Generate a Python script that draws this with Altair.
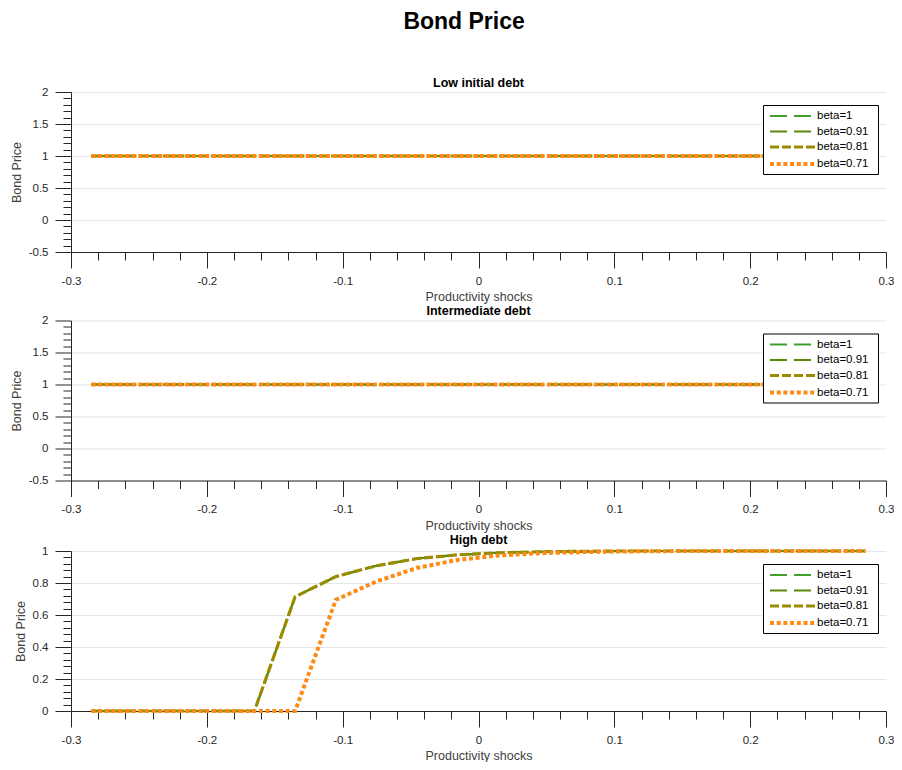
import altair as alt
import pandas as pd

# ---- data ----
x_vals = [-0.285, -0.255, -0.225, -0.195, -0.165, -0.135, -0.105, -0.075, -0.045, -0.015,
          0.015, 0.045, 0.075, 0.105, 0.135, 0.165, 0.195, 0.225, 0.255, 0.285]
series = ["beta=1", "beta=0.91", "beta=0.81", "beta=0.71"]

low_b1 = [1, 1, 1, 1, 1, 1, 1, 1, 1, 1, 1, 1, 1, 1, 1, 1, 1, 1, 1, 1]
low_b91 = [1, 1, 1, 1, 1, 1, 1, 1, 1, 1, 1, 1, 1, 1, 1, 1, 1, 1, 1, 1]
low_b81 = [1, 1, 1, 1, 1, 1, 1, 1, 1, 1, 1, 1, 1, 1, 1, 1, 1, 1, 1, 1]
low_b71 = [1, 1, 1, 1, 1, 1, 1, 1, 1, 1, 1, 1, 1, 1, 1, 1, 1, 1, 1, 1]

mid_b1 = [1, 1, 1, 1, 1, 1, 1, 1, 1, 1, 1, 1, 1, 1, 1, 1, 1, 1, 1, 1]
mid_b91 = [1, 1, 1, 1, 1, 1, 1, 1, 1, 1, 1, 1, 1, 1, 1, 1, 1, 1, 1, 1]
mid_b81 = [1, 1, 1, 1, 1, 1, 1, 1, 1, 1, 1, 1, 1, 1, 1, 1, 1, 1, 1, 1]
mid_b71 = [1, 1, 1, 1, 1, 1, 1, 1, 1, 1, 1, 1, 1, 1, 1, 1, 1, 1, 1, 1]

high_b1 = [0, 0, 0, 0, 0, 0.714, 0.84, 0.908, 0.953, 0.976, 0.989, 0.995, 0.998, 1, 1, 1, 1, 1, 1, 1]
high_b91 = [0, 0, 0, 0, 0, 0.714, 0.84, 0.908, 0.953, 0.976, 0.989, 0.995, 0.998, 1, 1, 1, 1, 1, 1, 1]
high_b81 = [0, 0, 0, 0, 0, 0.714, 0.84, 0.908, 0.953, 0.976, 0.989, 0.995, 0.998, 1, 1, 1, 1, 1, 1, 1]
high_b71 = [0, 0, 0, 0, 0, 0, 0.695, 0.81, 0.895, 0.945, 0.972, 0.986, 0.993, 0.997, 0.999, 1, 1, 1, 1, 1]

x_ticks = [-0.3, -0.28, -0.26, -0.24, -0.22, -0.2, -0.18, -0.16, -0.14, -0.12, -0.1, -0.08, -0.06,
           -0.04, -0.02, 0, 0.02, 0.04, 0.06, 0.08, 0.1, 0.12, 0.14, 0.16, 0.18, 0.2, 0.22, 0.24,
           0.26, 0.28, 0.3]
y_ticks_wide = [-0.5, -0.4, -0.3, -0.2, -0.1, 0, 0.1, 0.2, 0.3, 0.4, 0.5, 0.6, 0.7, 0.8, 0.9, 1,
                1.1, 1.2, 1.3, 1.4, 1.5, 1.6, 1.7, 1.8, 1.9, 2]
y_ticks_high = [0, 0.04, 0.08, 0.12, 0.16, 0.2, 0.24, 0.28, 0.32, 0.36, 0.4, 0.44, 0.48, 0.52,
                0.56, 0.6, 0.64, 0.68, 0.72, 0.76, 0.8, 0.84, 0.88, 0.92, 0.96, 1]

colors = ["#3f9f2a", "#5b8a0a", "#9c8b00", "#ff8a16"]
dashes = [[17, 7], [17, 7], [9, 3], [4, 2.7]]
widths = [2, 2.2, 3.2, 4]

FONT = "Liberation Sans"


def make_df(vals):
    rows = []
    for s, v in zip(series, vals):
        for xv, yv in zip(x_vals, v):
            rows.append({"x": xv, "v": yv, "s": s})
    return pd.DataFrame(rows)


def major_test(step):
    return f"abs(datum.value/{step} - round(datum.value/{step})) < 1e-6"


def panel(vals, title, ydom, yticks, ymajor):
    df = make_df(vals)
    xt = major_test(0.1)
    yt = major_test(ymajor)
    x_axis = alt.Axis(
        values=x_ticks,
        labelExpr=f"{xt} ? replace(format(datum.value, '.1~f'), '\u2212', '-') : ''",
        tickSize={"condition": {"test": xt, "value": 16}, "value": 8},
        grid=False,
        labelOverlap=False,
        labelFlush=False,
        labelPadding=7,
        title="Productivity shocks",
        titlePadding=4,
    )
    y_axis = alt.Axis(
        values=yticks,
        labelExpr=f"{yt} ? replace(format(datum.value, '~g'), '\u2212', '-') : ''",
        tickSize={"condition": {"test": yt, "value": 16}, "value": 8},
        grid=True,
        gridOpacity={"condition": {"test": yt, "value": 1}, "value": 0},
        labelOverlap=False,
        labelPadding=7,
        title="Bond Price",
        titlePadding=5,
    )
    leg = alt.Legend(
        title="\u00a0",
        titleOrient="right",
        titlePadding=8,
        titleFontSize=11.5,
        orient="none",
        legendX=692,
        legendY=13,
        fillColor="white",
        strokeColor="black",
        padding=2,
        rowPadding=0,
        symbolType="M-0.625,0H5",
        symbolSize=256,
        labelFontSize=11.5,
        labelColor="black",
        labelFont=FONT,
        labelOffset=32,
    )
    return alt.Chart(df).mark_line().encode(
        x=alt.X("x:Q", scale=alt.Scale(domain=[-0.3, 0.3], nice=False, zero=False), axis=x_axis),
        y=alt.Y("v:Q", scale=alt.Scale(domain=ydom, nice=False, zero=False), axis=y_axis),
        color=alt.Color("s:N", scale=alt.Scale(domain=series, range=colors), legend=leg),
        strokeDash=alt.StrokeDash("s:N", scale=alt.Scale(domain=series, range=dashes), legend=leg),
        strokeWidth=alt.StrokeWidth("s:N", scale=alt.Scale(type="ordinal", domain=series, range=widths),
                                    legend=leg),
    ).properties(
        width=815,
        height=160,
        title=alt.TitleParams(title, fontSize=12.5, fontWeight="bold", font=FONT, color="black",
                              anchor="middle", frame="group", offset=-3),
    )


p1 = panel([low_b1, low_b91, low_b81, low_b71], "Low initial debt", [-0.5, 2], y_ticks_wide, 0.5)
p2 = panel([mid_b1, mid_b91, mid_b81, mid_b71], "Intermediate debt", [-0.5, 2], y_ticks_wide, 0.5)
p3 = panel([high_b1, high_b91, high_b81, high_b71], "High debt", [0, 1], y_ticks_high, 0.2)

chart = alt.vconcat(p1, p2, p3, spacing=1.5).resolve_scale(
    x="independent", y="independent", color="independent",
    strokeDash="independent", strokeWidth="independent",
).properties(
    title=alt.TitleParams("Bond Price", fontSize=23, fontWeight="bold", font=FONT, color="black",
                          anchor="middle", offset=43, dx=12),
    padding={"left": 2, "top": 2, "right": 0, "bottom": 0},
).configure_axis(
    domainColor="#262626",
    tickColor="#262626",
    labelColor="#262626",
    titleColor="#404040",
    labelFont=FONT,
    titleFont=FONT,
    labelFontSize=11.5,
    titleFontSize=12.5,
    titleFontWeight="normal",
    gridColor="#e6e6e6",
).configure_view(stroke=None)

chart.save("out.html", embed_options={"renderer": "svg", "actions": False})
